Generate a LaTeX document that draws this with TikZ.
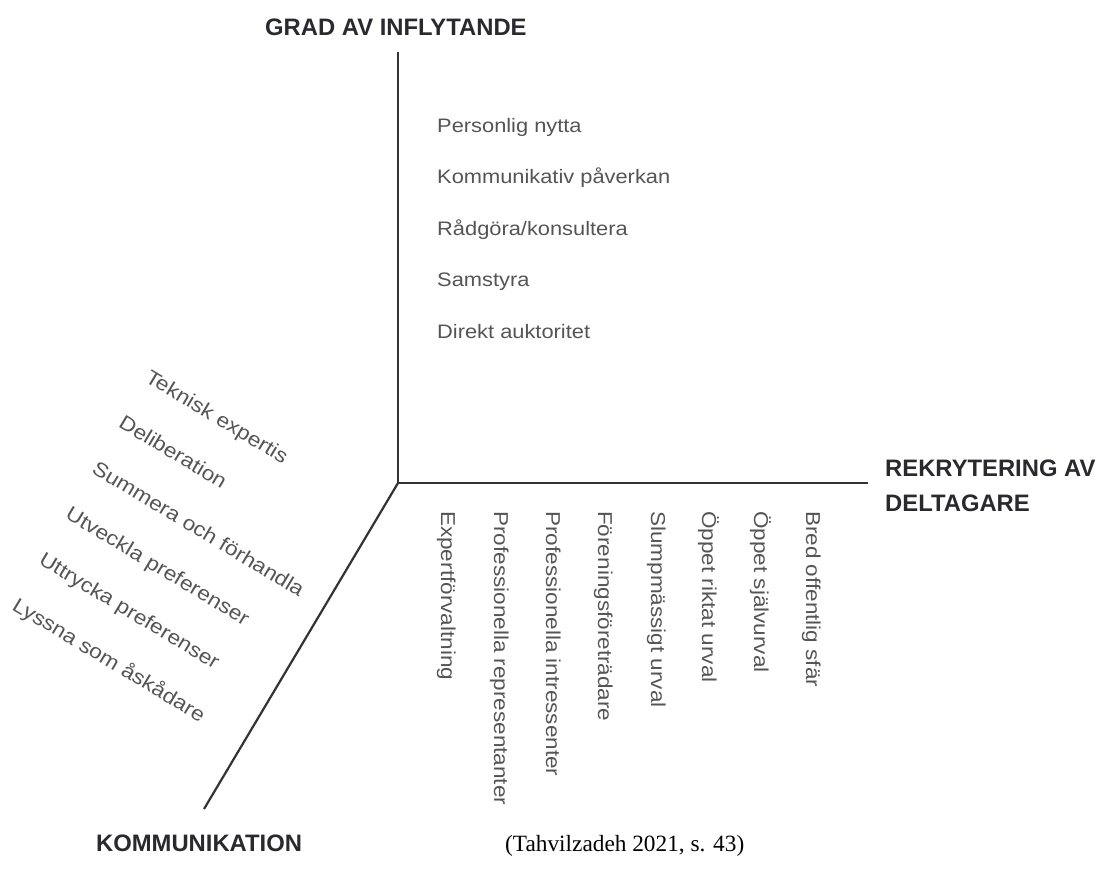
\documentclass[tikz,border=0pt]{standalone}
\usepackage{fontspec}
\setmainfont{Liberation Sans}
\newfontfamily\bodyfont[FakeStretch=1.12]{Liberation Sans}
\newfontfamily\headfont{Liberation Sans}
\newfontfamily\citefont{Liberation Serif}
\definecolor{axiscol}{HTML}{333333}
\definecolor{headcol}{HTML}{2A2A2E}
\definecolor{bodycol}{HTML}{555555}
\tikzset{
  axisline/.style={draw=axiscol, line width=2.2bp},
  headlbl/.style={inner sep=0pt, anchor=base west, text=headcol, font=\headfont\bfseries\fontsize{23.8bp}{28bp}\selectfont},
  bodylbl/.style={inner sep=0pt, anchor=base west, text=bodycol, font=\bodyfont\fontsize{19.5bp}{23bp}\selectfont},
  vertlbl/.style={bodylbl, font=\bodyfont\fontsize{20.1bp}{24bp}\selectfont, rotate=-90},
  diaglbl/.style={bodylbl, font=\bodyfont\fontsize{20.3bp}{24bp}\selectfont, rotate=-31},
  citelbl/.style={inner sep=0pt, anchor=base west, text=black, font=\citefont\fontsize{23.3bp}{27bp}\selectfont}
}
\begin{document}
\begin{tikzpicture}[x=1bp, y=-1bp]
\useasboundingbox[fill=white] (0,0) rectangle (1101,872);
% axes
\coordinate (o) at (398,483);
\coordinate (ytop) at (398,52);
\coordinate (xend) at (868,483);
\coordinate (dend) at (204,809);
\draw[axisline] (ytop) -- (o) -- (xend);
\draw[axisline] (o) -- (dend);
% headings
\node[headlbl] (grad) at (265,35) {GRAD AV INFLYTANDE};
\node[headlbl] (rek) at (885,476) {REKRYTERING AV};
\node[headlbl] (delt) at (885,511) {DELTAGARE};
\node[headlbl] (komm) at (96,851) {KOMMUNIKATION};
% influence list
\node[bodylbl] (i1) at (437,132) {Personlig nytta};
\node[bodylbl] (i2) at (437,183) {Kommunikativ påverkan};
\node[bodylbl] (i3) at (437,235) {Rådgöra/konsultera};
\node[bodylbl] (i4) at (437,286) {Samstyra};
\node[bodylbl] (i5) at (437,338) {Direkt auktoritet};
% recruitment list (vertical)
\node[vertlbl] (r1) at (441,511) {Expertförvaltning};
\node[vertlbl] (r2) at (494,511) {Professionella representanter};
\node[vertlbl] (r3) at (546,511) {Professionella intressenter};
\node[vertlbl] (r4) at (598,511) {Föreningsföreträdare};
\node[vertlbl] (r5) at (651,511) {Slumpmässigt urval};
\node[vertlbl] (r6) at (702,511) {Öppet riktat urval};
\node[vertlbl] (r7) at (754,511) {Öppet självurval};
\node[vertlbl] (r8) at (806,511) {Bred offentlig sfär};
% communication list (diagonal)
\node[diaglbl] (c1) at (144,381) {Teknisk expertis};
\node[diaglbl] (c2) at (117.4,426.6) {Deliberation};
\node[diaglbl] (c3) at (90.8,472.2) {Summera och förhandla};
\node[diaglbl] (c4) at (64.2,517.8) {Utveckla preferenser};
\node[diaglbl] (c5) at (37.6,563.4) {Uttrycka preferenser};
\node[diaglbl] (c6) at (11,609) {Lyssna som åskådare};
% citation
\node[citelbl] (cite) at (505,851) {(Tahvilzadeh 2021, s. 43)};
\end{tikzpicture}
\end{document}
